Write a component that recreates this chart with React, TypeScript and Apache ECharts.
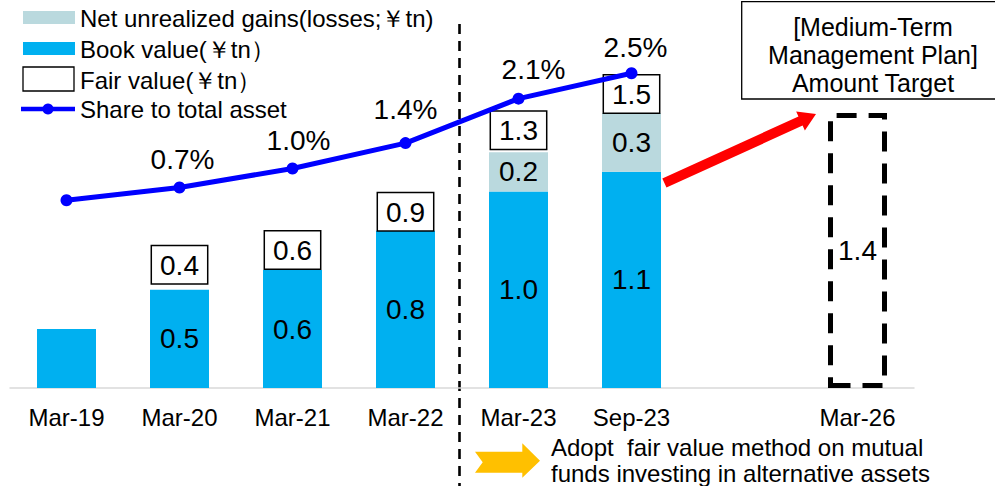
import React, { useEffect, useRef } from "react";
import * as echarts from "echarts";

// ---- data ----
const categories = ["Mar-19", "Mar-20", "Mar-21", "Mar-22", "Mar-23", "Sep-23", "", "Mar-26"];
const bookValue = [0.3, 0.5, 0.6, 0.8, 1.0, 1.1, null, null];
const netUnrealized = [null, null, null, null, 0.2, 0.3, null, null];
const fairValue = [null, 0.4, 0.6, 0.9, 1.3, 1.5, null, null];
const shareToTotal = [0.5, 0.7, 1.0, 1.4, 2.1, 2.5, null, null];
const targetAmount = [null, null, null, null, null, null, null, 1.4];
const unlabeledBook = ["Mar-19"];
const unlabeledShare = ["Mar-19"];

const legendNames = [
  "Net unrealized gains(losses;￥tn)",
  "Book value(￥tn）",
  "Fair value(￥tn）",
  "Share to total asset",
];
const targetBoxLines = ["[Medium-Term", "Management Plan]", "Amount Target"];
const noteLines = ["Adopt  fair value method on mutual", "funds investing in alternative assets"];

// ---- styles ----
const FONT = "'Liberation Sans', Arial, sans-serif";
const BLUE_BAR = "#00b0f0";
const NET_BAR = "#bad9de";
const LINE_BLUE = "#0000ff";
const shareLabelOffset = [[0, 0], [3, 0], [6, 0], [0, -6], [15, -1], [4, 2], [0, 0], [0, 0]];
const fairLabelGap = [0, 6, 1, 0, 3, 0, 0, 0];

function arrowPolygon(sx: number, sy: number, tx: number, ty: number, shaftHalf: number, headHalf: number, headLen: number) {
  const dx = tx - sx, dy = ty - sy;
  const len = Math.sqrt(dx * dx + dy * dy);
  const ux = dx / len, uy = dy / len;
  const nx = -uy, ny = ux;
  const bx = tx - ux * headLen, by = ty - uy * headLen;
  return [
    [sx + nx * shaftHalf, sy + ny * shaftHalf],
    [bx + nx * shaftHalf, by + ny * shaftHalf],
    [bx + nx * headHalf, by + ny * headHalf],
    [tx, ty],
    [bx - nx * headHalf, by - ny * headHalf],
    [bx - nx * shaftHalf, by - ny * shaftHalf],
    [sx - nx * shaftHalf, sy - ny * shaftHalf],
  ];
}

export default function App() {
  const ref = useRef<HTMLDivElement>(null);

  useEffect(() => {
    document.body.style.margin = "0";
    if (!ref.current) return;
    const chart = echarts.init(ref.current, null, { renderer: "svg" });

    const fairTops = fairValue.map((f, i) =>
      f == null ? null : (bookValue[i] ?? 0) + (netUnrealized[i] ?? 0)
    );

    const legendY = [18, 49, 80, 109];
    const legendGraphics: any[] = [
      { type: "rect", shape: { x: 23, y: 11, width: 52, height: 13 }, style: { fill: NET_BAR } },
      { type: "rect", shape: { x: 23, y: 42, width: 52, height: 13 }, style: { fill: BLUE_BAR } },
      { type: "rect", shape: { x: 23, y: 67, width: 51, height: 24 }, style: { fill: "#fff", stroke: "#000", lineWidth: 1.3 } },
      { type: "line", shape: { x1: 21, y1: 109, x2: 75, y2: 109 }, style: { stroke: LINE_BLUE, lineWidth: 4.5 } },
      { type: "circle", shape: { cx: 48, cy: 109, r: 5.5 }, style: { fill: LINE_BLUE } },
      ...legendNames.map((t, i) => ({
        type: "text",
        x: 80,
        y: legendY[i],
        style: { text: t, fontSize: 24, fontFamily: FONT, fill: "#000", verticalAlign: "middle" },
      })),
    ];

    const yellow = [
      [475, 451.7], [522.3, 451.7], [522.3, 443.3], [540, 460.7], [522.3, 477.7],
      [522.3, 472.7], [475, 472.7], [482.7, 462.2],
    ];

    const option: any = {
      animation: false,
      grid: { left: 10, right: 81, top: 34.3, bottom: 98 },
      xAxis: {
        type: "category",
        data: categories,
        axisLine: { lineStyle: { color: "#d9d9d9", width: 1.5 } },
        axisTick: { show: false },
        axisLabel: { fontSize: 24, color: "#000", margin: 17, fontFamily: FONT, interval: 0 },
      },
      yAxis: [
        { type: "value", min: 0, max: 1.8, show: false },
        { type: "value", min: -2.457, max: 3.113, show: false },
      ],
      series: [
        {
          name: legendNames[1],
          type: "bar",
          stack: "total",
          barWidth: 59,
          data: bookValue,
          itemStyle: { color: BLUE_BAR },
          label: {
            show: true,
            position: "inside",
            fontSize: 28,
            color: "#000",
            fontFamily: FONT,
            formatter: (p: any) =>
              unlabeledBook.includes(categories[p.dataIndex]) ? "" : Number(p.value).toFixed(1),
          },
        },
        {
          name: legendNames[0],
          type: "bar",
          stack: "total",
          barWidth: 59,
          data: netUnrealized,
          itemStyle: { color: NET_BAR },
          label: {
            show: true,
            position: "inside",
            fontSize: 28,
            color: "#000",
            fontFamily: FONT,
            formatter: (p: any) => Number(p.value).toFixed(1),
          },
        },
        {
          name: "Target",
          type: "bar",
          stack: "total",
          barWidth: 59,
          data: targetAmount,
          itemStyle: {
            color: "rgba(0,0,0,0)",
            borderColor: "#000",
            borderWidth: 5,
            borderType: [20, 12],
          },
          label: {
            show: true,
            position: "inside",
            fontSize: 28,
            color: "#000",
            fontFamily: FONT,
            formatter: (p: any) => Number(p.value).toFixed(1),
          },
        },
        {
          name: legendNames[2],
          type: "line",
          yAxisIndex: 0,
          z: 5,
          symbol: "circle",
          symbolSize: 1,
          itemStyle: { color: "rgba(0,0,0,0)", borderWidth: 0 },
          lineStyle: { opacity: 0, width: 0 },
          data: fairTops.map((v, i) => ({
            value: v,
            label: { distance: fairLabelGap[i] },
          })),
          label: {
            show: true,
            position: "top",
            fontSize: 28,
            lineHeight: 30,
            color: "#000",
            fontFamily: FONT,
            backgroundColor: "#fff",
            borderColor: "#000",
            borderWidth: 1.5,
            padding: [4, 8, 3, 8],
            formatter: (p: any) => Number(fairValue[p.dataIndex]).toFixed(1),
          },
        },
        {
          name: legendNames[3],
          type: "line",
          yAxisIndex: 1,
          z: 6,
          symbol: "circle",
          symbolSize: 12,
          itemStyle: { color: LINE_BLUE },
          lineStyle: { color: LINE_BLUE, width: 5 },
          data: shareToTotal.map((v, i) => ({
            value: v,
            label: {
              show: v != null && !unlabeledShare.includes(categories[i]),
              offset: shareLabelOffset[i],
            },
          })),
          label: {
            show: true,
            position: "top",
            distance: 8,
            fontSize: 28,
            color: "#000",
            fontFamily: FONT,
            formatter: (p: any) => Number(p.value).toFixed(1) + "%",
          },
        },
      ],
      graphic: [
        ...legendGraphics,
        {
          type: "line",
          shape: { x1: 459.5, y1: 24, x2: 459.5, y2: 486 },
          style: { stroke: "#000", lineWidth: 2.6, lineDash: [10, 7] },
        },
        {
          type: "rect",
          shape: { x: 741.7, y: 1.7, width: 260, height: 97.3 },
          style: { fill: "#fff", stroke: "#000", lineWidth: 1.3 },
        },
        ...targetBoxLines.map((t, i) => ({
          type: "text",
          x: 873,
          y: 27 + i * 28,
          style: { text: t, fontSize: 25, fontFamily: FONT, fill: "#000", align: "center", verticalAlign: "middle" },
        })),
        {
          type: "polygon",
          z: 10,
          shape: { points: arrowPolygon(664.4, 183, 816, 114, 5, 10.5, 17) },
          style: { fill: "#ff0000" },
        },
        {
          type: "polygon",
          shape: { points: yellow },
          style: { fill: "#ffc000" },
        },
        ...noteLines.map((t, i) => ({
          type: "text",
          x: 551,
          y: 447 + i * 26,
          style: { text: t, fontSize: 24, fontFamily: FONT, fill: "#000", verticalAlign: "middle" },
        })),
      ],
    };

    chart.setOption(option);
    return () => chart.dispose();
  }, []);

  return <div ref={ref} style={{ width: 995, height: 486 }} />;
}
